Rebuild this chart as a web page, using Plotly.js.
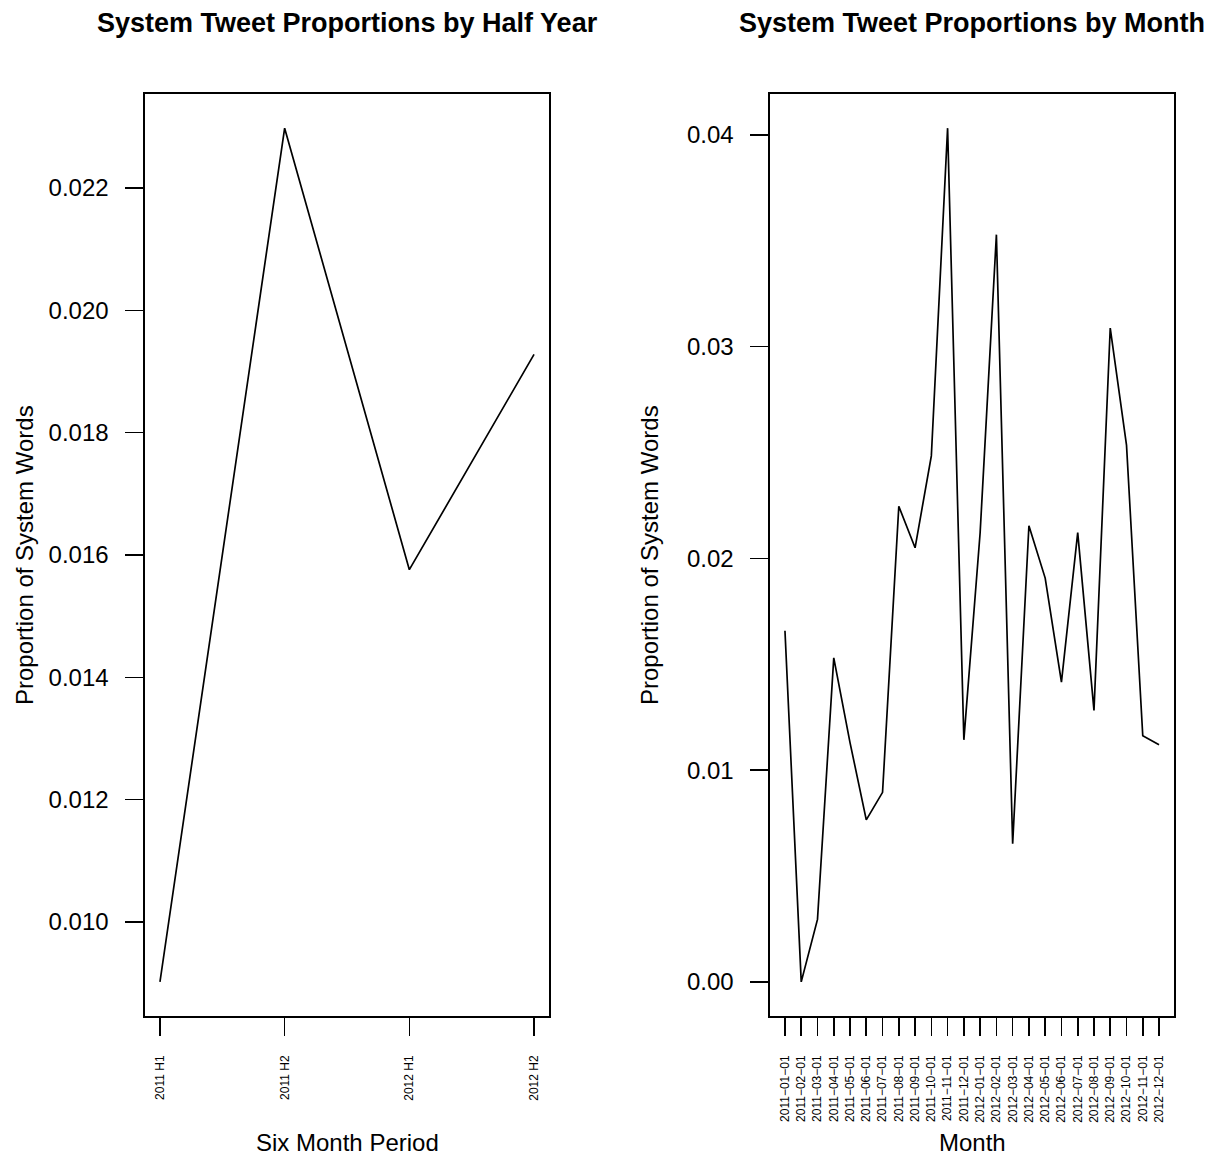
<!DOCTYPE html>
<html>
<head>
<meta charset="utf-8">
<script src="https://cdn.plot.ly/plotly-3.0.1.min.js"></script>
<style>html,body{margin:0;padding:0;background:#fff;}#chart{width:1215px;height:1157px;}</style>
</head>
<body>
<div id="chart"></div>
<script>
// Half-year panel
const halfYearLabels = ["2011 H1", "2011 H2", "2012 H1", "2012 H2"];
const halfYearValues = [0.00902, 0.02298, 0.01576, 0.01928];

// Monthly panel
const monthLabels = [
  "2011-01-01","2011-02-01","2011-03-01","2011-04-01","2011-05-01","2011-06-01",
  "2011-07-01","2011-08-01","2011-09-01","2011-10-01","2011-11-01","2011-12-01",
  "2012-01-01","2012-02-01","2012-03-01","2012-04-01","2012-05-01","2012-06-01",
  "2012-07-01","2012-08-01","2012-09-01","2012-10-01","2012-11-01","2012-12-01"
];
const monthValues = [
  0.01658, 0.00000, 0.00295, 0.01530, 0.01130, 0.00765,
  0.00895, 0.02246, 0.02050, 0.02484, 0.04032, 0.01143,
  0.02121, 0.03529, 0.00652, 0.02154, 0.01907, 0.01416,
  0.02122, 0.01282, 0.03088, 0.02535, 0.01162, 0.01120
];

const leftTicks = [0.010, 0.012, 0.014, 0.016, 0.018, 0.020, 0.022];
const rightTicks = [0.00, 0.01, 0.02, 0.03, 0.04];

// R-style 4% padding
function rRange(arr) {
  const mn = Math.min(...arr), mx = Math.max(...arr);
  const d = (mx - mn) * 0.04;
  return [mn - d, mx + d];
}
function rCatRange(n) {
  const d = (n - 1) * 0.04;
  return [-d, n - 1 + d];
}

const FONT = "Liberation Sans, Arial, Helvetica, sans-serif";
const W = 1215, H = 1157;
const px = x => x / W;
const py = y => 1 - y / H;

const lineStyle = {color: "#000", width: 1.7};

const traces = [
  {x: halfYearLabels, y: halfYearValues, type: "scatter", mode: "lines",
   line: lineStyle, xaxis: "x", yaxis: "y", hoverinfo: "x+y"},
  {x: monthLabels, y: monthValues, type: "scatter", mode: "lines",
   line: lineStyle, xaxis: "x2", yaxis: "y2", hoverinfo: "x+y"}
];

const axisCommon = {
  showline: true, mirror: true, linecolor: "#000", linewidth: 1.6,
  ticks: "outside", ticklen: 18, tickwidth: 1.6, tickcolor: "#000",
  showgrid: false, zeroline: false, fixedrange: true
};

const layout = {
  width: W, height: H,
  margin: {l: 0, r: 0, t: 0, b: 0},
  paper_bgcolor: "#fff", plot_bgcolor: "#fff",
  showlegend: false,
  font: {family: FONT, color: "#000"},
  xaxis: Object.assign({}, axisCommon, {
    domain: [px(145), px(549)], anchor: "y", type: "category",
    range: rCatRange(halfYearLabels.length),
    tickmode: "array", tickvals: halfYearLabels, ticktext: halfYearLabels,
    tickangle: -90, tickfont: {size: 12, family: FONT, color: "#000"},
    ticklabelstandoff: 15
  }),
  yaxis: Object.assign({}, axisCommon, {
    domain: [py(1016), py(94)], anchor: "x",
    range: rRange(halfYearValues),
    tickmode: "array", tickvals: leftTicks,
    ticktext: leftTicks.map(v => v.toFixed(3)),
    tickfont: {size: 24, family: FONT, color: "#000"},
    ticklabelstandoff: 12
  }),
  xaxis2: Object.assign({}, axisCommon, {
    domain: [px(770), px(1174)], anchor: "y2", type: "category",
    range: rCatRange(monthLabels.length),
    tickmode: "array", tickvals: monthLabels,
    ticktext: monthLabels.map(s => s.replace(/-/g, "\u2212")),
    tickangle: -90, tickfont: {size: 12, family: FONT, color: "#000"},
    ticklabelstandoff: 15
  }),
  yaxis2: Object.assign({}, axisCommon, {
    domain: [py(1016), py(94)], anchor: "x2",
    range: rRange(monthValues),
    tickmode: "array", tickvals: rightTicks,
    ticktext: rightTicks.map(v => v.toFixed(2)),
    tickfont: {size: 24, family: FONT, color: "#000"},
    ticklabelstandoff: 12
  }),
  annotations: [
    {text: "<b>System Tweet Proportions by Half Year</b>", xref: "paper", yref: "paper",
     x: px(347), y: py(23), xanchor: "center", yanchor: "middle", showarrow: false,
     font: {size: 27, family: FONT, color: "#000"}},
    {text: "<b>System Tweet Proportions by Month</b>", xref: "paper", yref: "paper",
     x: px(972), y: py(23), xanchor: "center", yanchor: "middle", showarrow: false,
     font: {size: 27, family: FONT, color: "#000"}},
    {text: "Six Month Period", xref: "paper", yref: "paper",
     x: px(347), y: py(1142), xanchor: "center", yanchor: "middle", showarrow: false,
     font: {size: 24, family: FONT, color: "#000"}},
    {text: "Month", xref: "paper", yref: "paper",
     x: px(972), y: py(1142), xanchor: "center", yanchor: "middle", showarrow: false,
     font: {size: 24, family: FONT, color: "#000"}},
    {text: "Proportion of System Words", xref: "paper", yref: "paper",
     x: px(24), y: py(555), xanchor: "center", yanchor: "middle", showarrow: false,
     textangle: -90, font: {size: 24, family: FONT, color: "#000"}},
    {text: "Proportion of System Words", xref: "paper", yref: "paper",
     x: px(649), y: py(555), xanchor: "center", yanchor: "middle", showarrow: false,
     textangle: -90, font: {size: 24, family: FONT, color: "#000"}}
  ]
};

Plotly.newPlot("chart", traces, layout, {displayModeBar: false, staticPlot: true});
</script>
</body>
</html>
